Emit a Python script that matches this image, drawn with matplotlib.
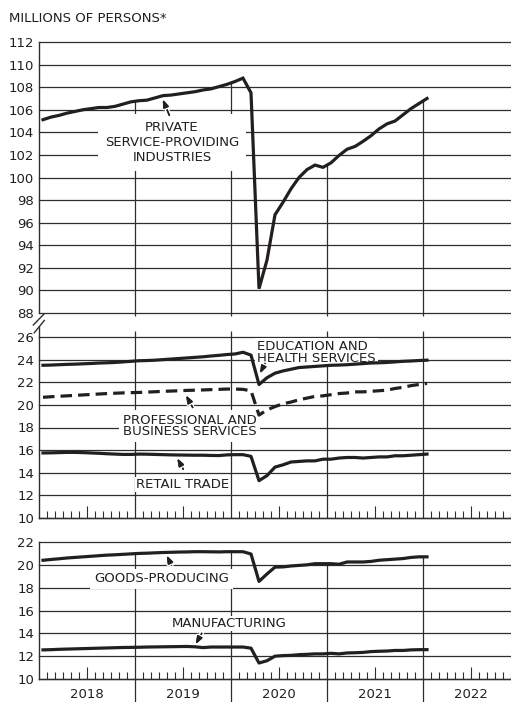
import numpy as np
import matplotlib
matplotlib.use("Agg")
import matplotlib.pyplot as plt
from matplotlib.lines import Line2D
import matplotlib.patheffects as pe

# ---------------- data (monthly, Jan 2018 .. Jan 2022) ----------------
years = [2018, 2019, 2020, 2021, 2022]
n_months = 49

private_services = [
    105.12, 105.35, 105.5, 105.7, 105.85, 106.0, 106.1, 106.2, 106.2, 106.3, 106.5, 106.7,
    106.8, 106.85, 107.05, 107.25, 107.3, 107.4, 107.5, 107.6, 107.75, 107.85, 108.05, 108.25,
    108.5, 108.8, 107.5, 90.15, 92.7, 96.7, 97.8, 99.0, 100.0, 100.7, 101.1, 100.9,
    101.3, 101.95, 102.5, 102.75, 103.2, 103.7, 104.3, 104.75, 105.0, 105.55, 106.1, 106.55,
    107.0]
edu_health = [
    23.5, 23.52, 23.55, 23.58, 23.6, 23.63, 23.66, 23.7, 23.72, 23.75, 23.8, 23.85,
    23.9, 23.92, 23.95, 24.0, 24.05, 24.1, 24.15, 24.2, 24.25, 24.32, 24.38, 24.45,
    24.5, 24.65, 24.4, 21.8, 22.4, 22.8, 23.0, 23.15, 23.3, 23.35, 23.4, 23.45,
    23.5, 23.52, 23.55, 23.6, 23.65, 23.7, 23.72, 23.75, 23.8, 23.85, 23.88, 23.92,
    23.95]
prof_business = [
    20.67, 20.72, 20.76, 20.8, 20.84, 20.88, 20.92, 20.96, 21.0, 21.03, 21.06, 21.08,
    21.1, 21.13, 21.16, 21.2, 21.22, 21.25, 21.28, 21.3, 21.32, 21.35, 21.37, 21.4,
    21.4, 21.37, 21.25, 19.1, 19.55, 19.85, 20.1, 20.25, 20.45, 20.6, 20.75, 20.8,
    20.9, 21.0, 21.05, 21.15, 21.15, 21.2, 21.25, 21.3, 21.45, 21.55, 21.7, 21.8,
    21.9]
retail = [
    15.75, 15.76, 15.78, 15.8, 15.8, 15.78, 15.75, 15.72, 15.68, 15.65, 15.62, 15.62,
    15.65, 15.64, 15.62, 15.6, 15.58, 15.57, 15.56, 15.55, 15.55, 15.53, 15.52, 15.58,
    15.6, 15.6, 15.45, 13.3, 13.75, 14.5, 14.7, 14.95, 15.0, 15.05, 15.05, 15.2,
    15.2, 15.3, 15.35, 15.35, 15.3, 15.35, 15.4, 15.4, 15.5, 15.5, 15.55, 15.6,
    15.65]
goods = [
    20.4, 20.47, 20.53, 20.6, 20.65, 20.7, 20.75, 20.8, 20.85, 20.88, 20.92, 20.96,
    21.0, 21.02, 21.05, 21.08, 21.1, 21.12, 21.13, 21.15, 21.15, 21.14, 21.13, 21.15,
    21.15, 21.15, 20.95, 18.55, 19.2, 19.8, 19.82, 19.9, 19.95, 20.0, 20.1, 20.1,
    20.1, 20.05, 20.25, 20.25, 20.25, 20.3, 20.4, 20.45, 20.5, 20.55, 20.65, 20.7,
    20.7]
manufacturing = [
    12.55, 12.57, 12.6, 12.62, 12.64, 12.66, 12.68, 12.7, 12.72, 12.74, 12.76, 12.77,
    12.78, 12.8, 12.81, 12.82, 12.83, 12.84, 12.85, 12.82, 12.75, 12.8, 12.8, 12.8,
    12.8, 12.8, 12.7, 11.4, 11.6, 12.0, 12.05, 12.07, 12.13, 12.16, 12.2, 12.2,
    12.25, 12.2, 12.28, 12.3, 12.33, 12.4, 12.43, 12.45, 12.5, 12.5, 12.55, 12.57,
    12.57]

top_ticks = list(range(88, 113, 2))
mid_ticks = list(range(10, 27, 2))
bot_ticks = list(range(10, 23, 2))
year_labels = ["2018", "2019", "2020", "2021", "2022"]

# month positions (mid-month)
x = years[0] + (np.arange(n_months) + 0.5) / 12.0

# ---------------- style ----------------
plt.rcParams["font.family"] = ["DejaVu Sans"]
INK = "#231f20"
GRID = "#2e2e2e"
GLW = 0.9
DLW = 2.3
FS = 9.5

W, H = 511, 702
fig = plt.figure(figsize=(W / 100, H / 100), dpi=100)
fig.patch.set_facecolor("white")

def px_rect(x0, y_top, x1, y_bot):
    return [x0 / W, 1 - y_bot / H, (x1 - x0) / W, (y_bot - y_top) / H]

XMIN, XMAX = 2018.0, 2018.0 + (W - 39) / 96.0

ax_top = fig.add_axes(px_rect(39, 42, W, 313))
ax_mid = fig.add_axes(px_rect(39, 337, W, 518))
ax_bot = fig.add_axes(px_rect(39, 542, W, 679))

def base(ax, ticks, ylim):
    ax.set_xlim(XMIN, XMAX)
    ax.set_ylim(*ylim)
    ax.set_yticks(ticks)
    ax.set_yticklabels([str(t) for t in ticks])
    ax.tick_params(axis="y", length=0, pad=3.5, labelsize=9.5, labelcolor=INK)
    for s in ["top", "right", "bottom"]:
        ax.spines[s].set_visible(False)
    ax.spines["left"].set_color(GRID)
    ax.spines["left"].set_linewidth(1.0)
    ax.set_facecolor("none")
    for t in ticks:
        ax.axhline(t, color=GRID, lw=GLW, zorder=1, clip_on=False)

def month_ticks(ax):
    months = np.arange(0, (XMAX - XMIN) * 12 + 0.01)
    pos = XMIN + months / 12.0
    mid = [p for m, p in zip(months, pos) if int(m) % 12 == 6]
    minor = [p for m, p in zip(months, pos) if int(m) % 12 not in (0, 6)]
    ax.set_xticks(mid)
    ax.set_xticks(minor, minor=True)
    ax.tick_params(axis="x", which="major", direction="in", length=9, width=0.8,
                   color=GRID, labelbottom=False, bottom=True, top=False)
    ax.tick_params(axis="x", which="minor", direction="in", length=5, width=0.8,
                   color=GRID, bottom=True, top=False)
    ax.spines["bottom"].set_visible(True)
    ax.spines["bottom"].set_color(GRID)
    ax.spines["bottom"].set_linewidth(1.0)

# ---------- top panel ----------
base(ax_top, top_ticks, (88, 112))
ax_top.set_xticks([])
for yb in years[1:]:
    ax_top.vlines(yb, 87.7, np.interp(yb, x, private_services), color=GRID, lw=GLW,
                  zorder=1, clip_on=False)
ax_top.plot(x, private_services, color=INK, lw=DLW, zorder=3, solid_joinstyle="miter")

# ---------- middle panel ----------
base(ax_mid, mid_ticks, (10, 26))
month_ticks(ax_mid)
for yb in years[1:]:
    ax_mid.vlines(yb, 10, 26.55, color=GRID, lw=GLW, zorder=1, clip_on=False)
ax_mid.plot(x, edu_health, color=INK, lw=DLW, zorder=3)
ax_mid.plot(x, prof_business, color=INK, lw=DLW, zorder=3, dashes=(3.6, 1.9))
ax_mid.plot(x, retail, color=INK, lw=DLW, zorder=3)

# ---------- bottom panel ----------
base(ax_bot, bot_ticks, (10, 22))
month_ticks(ax_bot)
for yb in years[1:]:
    ax_bot.vlines(yb, 7.9, np.interp(yb, x, goods), color=GRID, lw=GLW, zorder=1,
                  clip_on=False)
ax_bot.plot(x, goods, color=INK, lw=DLW, zorder=3)
ax_bot.plot(x, manufacturing, color=INK, lw=DLW, zorder=3)
for yr, lab in zip(years, year_labels):
    ax_bot.text(yr + 0.5, 8.62, lab, ha="center", va="center", fontsize=9.5,
                color=INK, clip_on=False)

# ---------- labels with arrows ----------
arrow = dict(arrowstyle="-|>,head_length=0.45,head_width=0.16", lw=1.1, color=INK,
             shrinkA=0, shrinkB=0)

def label(ax, text, xy_text, tip, tail, ha="center", pad=0.3, ls=1.0):
    ax.text(*xy_text, text, ha=ha, va="center", fontsize=FS, color=INK,
            linespacing=ls, zorder=2,
            bbox=dict(boxstyle=f"square,pad={pad}", fc="white", ec="none"))
    an = ax.annotate("", xy=tip, xytext=tail, arrowprops=arrow, zorder=4)
    an.arrow_patch.set_path_effects([pe.withStroke(linewidth=3.2, foreground="white"),
                                     pe.Normal()])

label(ax_top, "PRIVATE\nSERVICE-PROVIDING\nINDUSTRIES", (2019.385, 103.1),
      (2019.289, 106.92), (2019.358, 105.5), pad=0.5, ls=1.2)
label(ax_mid, "EDUCATION AND\nHEALTH SERVICES", (2020.27, 24.6),
      (2020.302, 22.77), (2020.354, 23.66), ha="left", pad=0.15, ls=0.93)
label(ax_mid, "PROFESSIONAL AND\nBUSINESS SERVICES", (2019.568, 18.12),
      (2019.531, 20.85), (2019.601, 19.77), pad=0.3, ls=0.8)
label(ax_mid, "RETAIL TRADE", (2019.495, 12.95),
      (2019.44, 15.28), (2019.503, 14.31), pad=0.1)
label(ax_bot, "GOODS-PRODUCING", (2019.278, 18.76),
      (2019.33, 20.82), (2019.38, 19.97), pad=0.3)
label(ax_bot, "MANUFACTURING", (2019.986, 14.85),
      (2019.632, 13.04), (2019.695, 14.0), pad=0.1)

# ---------- title and axis break ----------
fig.text(9 / W, 1 - 18 / H, "MILLIONS OF PERSONS*", ha="left", va="center",
         fontsize=9.5, color=INK)

def fline(p0, p1, lw=1.0):
    fig.add_artist(Line2D([p0[0] / W, p1[0] / W], [1 - p0[1] / H, 1 - p1[1] / H],
                          transform=fig.transFigure, color=GRID, lw=lw))

fline((39, 327), (39, 337))
fline((33.3, 325), (44, 314))
fline((34.3, 332.7), (44.3, 320.5))

fig.savefig("out.png", dpi=100, facecolor="white")
